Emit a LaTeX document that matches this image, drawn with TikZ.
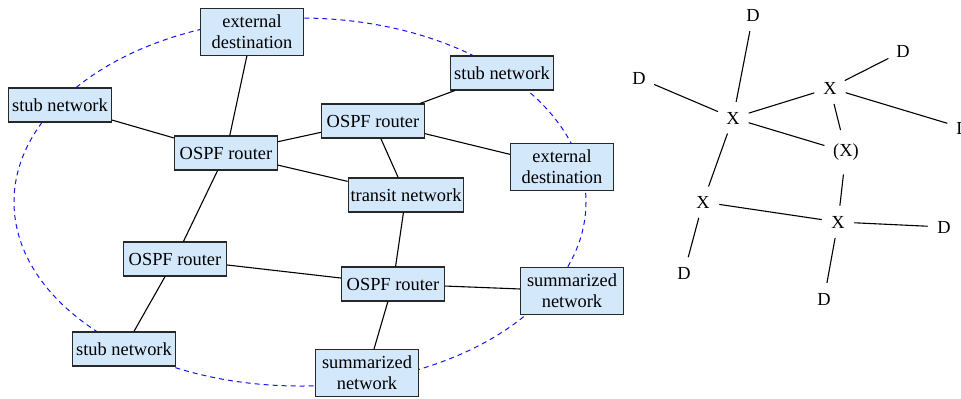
\documentclass[tikz,border=0pt]{standalone}
\usepackage{fontspec}
\setmainfont{Liberation Serif}
\usepackage{tikz}
\usetikzlibrary{positioning}
\definecolor{boxfill}{RGB}{212,232,252}
\definecolor{boxline}{RGB}{40,40,40}
\definecolor{areablue}{RGB}{20,20,235}
\tikzset{
  netbox/.style={draw=boxline, fill=boxfill, line width=0.55pt, align=center,
    minimum width=51.5pt, minimum height=17pt, inner xsep=1.2pt, inner ysep=3.2pt},
  lbl/.style={circle, inner sep=2.5pt},
  link/.style={line width=0.55pt},
}

\begin{document}
\begin{tikzpicture}[x=0.5pt, y=-0.5pt, font=\fontsize{9.2}{10.4}\selectfont]
  \useasboundingbox (0,0) rectangle (961,398);
  % area boundary
  \draw[areablue, line width=0.5pt, dash pattern=on 2.5pt off 2pt]
    (300,202) ellipse [x radius=286, y radius=184];

  % the area
  \node[netbox] (ed1) at (252,32)  {external\\destination};
  \node[netbox] (sn1) at (60,105)  {stub network};
  \node[netbox] (r1)  at (226,153) {OSPF router};
  \node[netbox] (r2)  at (373,121) {OSPF router};
  \node[netbox] (sn2) at (502,73)  {stub network};
  \node[netbox] (ed2) at (562,167) {external\\destination};
  \node[netbox] (tn)  at (406,195) {transit network};
  \node[netbox] (r3)  at (175,259) {OSPF router};
  \node[netbox] (r4)  at (393,284) {OSPF router};
  \node[netbox] (sm1) at (572,291) {summarized\\network};
  \node[netbox] (sn3) at (124,349) {stub network};
  \node[netbox] (sm2) at (367,373) {summarized\\network};

  \draw[link] (ed1) -- (r1);
  \draw[link] (sn1) -- (r1);
  \draw[link] (r1) -- (r2);
  \draw[link] (r1) -- (tn);
  \draw[link] (r1) -- (r3);
  \draw[link] (r2) -- (sn2);
  \draw[link] (r2) -- (ed2);
  \draw[link] (r2) -- (tn);
  \draw[link] (tn) -- (r4);
  \draw[link] (r3) -- (r4);
  \draw[link] (r3) -- (sn3);
  \draw[link] (r4) -- (sm1);
  \draw[link] (r4) -- (sm2);

  % abstract view
  \node[lbl] (x1) at (733,118) {X};
  \node[lbl] (x2) at (830,88)  {X};
  \node[lbl] (xp) at (846,152) {(X)};
  \node[lbl] (x3) at (703,202) {X};
  \node[lbl] (x4) at (838,222) {X};
  \node[lbl] (d1) at (753,15)  {D};
  \node[lbl] (d2) at (639,78)  {D};
  \node[lbl] (d3) at (903,51)  {D};
  \node[lbl] (d4) at (963,128) {D};
  \node[lbl] (d5) at (944,227) {D};
  \node[lbl] (d6) at (684,273) {D};
  \node[lbl] (d7) at (824,299) {D};

  \draw[link] (x1) -- (d1);
  \draw[link] (x1) -- (d2);
  \draw[link] (x1) -- (x2);
  \draw[link] (x1) -- (xp);
  \draw[link] (x1) -- (x3);
  \draw[link] (x2) -- (d3);
  \draw[link] (x2) -- (d4);
  \draw[link] (x2) -- (xp);
  \draw[link] (xp) -- (x4);
  \draw[link] (x3) -- (x4);
  \draw[link] (x3) -- (d6);
  \draw[link] (x4) -- (d5);
  \draw[link] (x4) -- (d7);
\end{tikzpicture}
\end{document}
